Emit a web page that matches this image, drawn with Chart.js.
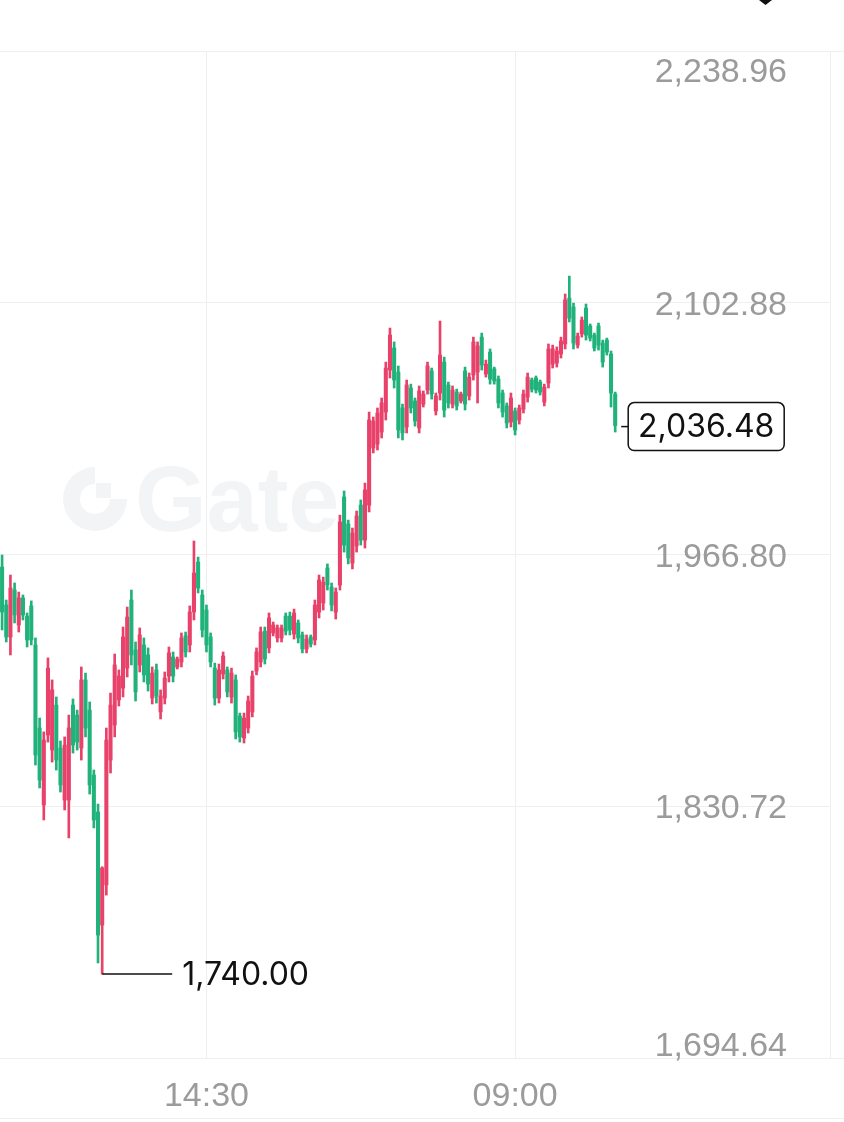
<!DOCTYPE html>
<html>
<head>
<meta charset="utf-8">
<script src="https://cdn.jsdelivr.net/npm/chart.js@4.4.1/dist/chart.umd.min.js"></script>
<style>
  html, body { margin: 0; padding: 0; background: #fff; }
  canvas { display: block; }
</style>
</head>
<body>
<canvas id="candles" width="844" height="1122"></canvas>
<script>
// 15 minute candles (red = up, green = down)
let opens = [
  1960.0, 1939.5, 1922.2, 1947.6, 1928.7, 1943.3, 1933.5, 1939.0, 1917.9, 1873.0,
  1831.4, 1869.2, 1861.1, 1885.4, 1862.2, 1834.1, 1834.1, 1885.4, 1880.0, 1862.2,
  1899.0, 1882.7, 1847.6, 1827.6, 1766.5, 1788.2, 1855.7, 1874.6, 1888.2, 1894.6,
  1905.4, 1942.2, 1915.2, 1907.1, 1917.9, 1912.5, 1889.2, 1904.4, 1881.7, 1889.2,
  1901.1, 1911.4, 1906.0, 1908.7, 1922.8, 1917.9, 1935.7, 1962.7, 1944.9, 1936.8,
  1922.2, 1905.4, 1889.2, 1902.2, 1904.4, 1889.8, 1899.0, 1879.5, 1867.6, 1873.0,
  1881.7, 1903.8, 1908.7, 1925.4, 1916.3, 1924.4, 1921.7, 1921.7, 1933.5, 1933.5,
  1923.8, 1929.8, 1923.3, 1915.7, 1922.2, 1920.6, 1935.7, 1940.6, 1959.5, 1949.2,
  1935.7, 1950.3, 1997.9, 1983.3, 1962.2, 1971.4, 1993.5, 1974.6, 1993.5, 2024.4,
  2026.5, 2033.0, 2043.8, 2066.5, 2078.4, 2065.4, 2046.0, 2035.7, 2056.8, 2049.8,
  2035.2, 2048.1, 2055.7, 2066.0, 2044.4, 2054.1, 2070.8, 2058.4, 2048.1, 2054.6,
  2049.8, 2066.0, 2052.5, 2063.8, 2065.4, 2084.3, 2064.4, 2076.2, 2067.1, 2061.6,
  2054.1, 2047.1, 2038.4, 2044.4, 2039.5, 2045.4, 2051.9, 2061.1, 2062.2, 2060.0,
  2049.2, 2059.5, 2069.7, 2070.3, 2075.2, 2080.6, 2105.4, 2100.6, 2080.0, 2086.0,
  2100.0, 2090.3, 2085.4, 2090.3, 2081.1, 2082.7, 2075.2, 2053.5
];
let highs = [
  1966.5, 1942.2, 1955.7, 1951.4, 1946.5, 1944.9, 1935.2, 1941.7, 1921.7, 1878.4,
  1870.9, 1910.9, 1899.0, 1889.8, 1866.0, 1868.2, 1880.0, 1888.7, 1882.7, 1906.0,
  1902.7, 1887.1, 1850.3, 1831.9, 1798.0, 1873.0, 1891.9, 1913.0, 1904.4, 1927.6,
  1938.4, 1947.6, 1919.5, 1927.1, 1921.7, 1916.3, 1906.0, 1907.6, 1893.6, 1903.3,
  1916.8, 1914.1, 1911.4, 1924.4, 1924.9, 1939.0, 1974.1, 1965.4, 1947.6, 1939.5,
  1924.4, 1908.1, 1907.6, 1914.1, 1906.0, 1905.4, 1901.7, 1881.1, 1881.1, 1890.3,
  1903.8, 1916.3, 1927.6, 1927.6, 1935.2, 1930.3, 1928.7, 1928.7, 1935.2, 1935.7,
  1937.3, 1931.4, 1924.9, 1923.3, 1923.3, 1942.2, 1955.7, 1954.6, 1961.7, 1951.4,
  1948.7, 1988.1, 2001.1, 1985.4, 1981.1, 1990.3, 1996.3, 2005.4, 2043.8, 2041.1,
  2046.0, 2051.4, 2070.8, 2089.2, 2081.7, 2068.7, 2048.1, 2061.1, 2058.9, 2051.4,
  2057.9, 2055.2, 2070.8, 2067.6, 2054.1, 2093.0, 2073.5, 2060.0, 2057.9, 2056.2,
  2054.6, 2068.1, 2064.9, 2084.3, 2081.7, 2086.5, 2071.9, 2077.9, 2068.1, 2063.3,
  2055.7, 2048.7, 2054.1, 2046.0, 2047.6, 2055.7, 2064.9, 2062.2, 2063.3, 2061.1,
  2058.9, 2080.6, 2080.0, 2079.0, 2084.3, 2107.6, 2117.3, 2102.7, 2086.5, 2095.2,
  2102.2, 2091.4, 2086.5, 2091.9, 2082.7, 2083.8, 2076.8, 2054.6
];
let lows = [
  1926.0, 1919.5, 1912.5, 1929.8, 1924.9, 1931.4, 1916.8, 1917.9, 1853.0, 1840.6,
  1823.3, 1865.4, 1854.6, 1850.3, 1838.4, 1828.7, 1813.6, 1859.5, 1861.1, 1855.7,
  1868.2, 1837.3, 1819.0, 1746.0, 1740.0, 1782.7, 1848.7, 1868.2, 1884.9, 1889.8,
  1900.6, 1907.1, 1887.6, 1903.3, 1897.9, 1893.0, 1886.0, 1886.5, 1877.9, 1886.0,
  1897.9, 1897.9, 1904.9, 1906.0, 1911.4, 1914.1, 1931.4, 1946.0, 1922.2, 1914.1,
  1906.0, 1885.4, 1886.5, 1899.5, 1889.8, 1886.5, 1867.1, 1865.4, 1864.9, 1870.3,
  1879.0, 1901.7, 1906.0, 1907.6, 1913.6, 1922.8, 1919.5, 1919.5, 1923.3, 1923.3,
  1921.1, 1919.0, 1913.6, 1913.6, 1916.8, 1917.9, 1932.5, 1936.8, 1947.6, 1936.3,
  1931.9, 1947.6, 1968.1, 1961.7, 1959.0, 1968.1, 1971.9, 1970.3, 1989.8, 2021.7,
  2023.3, 2029.8, 2039.5, 2062.2, 2056.8, 2029.8, 2028.7, 2032.5, 2043.3, 2036.2,
  2032.5, 2046.5, 2053.5, 2050.8, 2042.2, 2050.3, 2041.1, 2046.0, 2046.0, 2044.9,
  2048.7, 2044.9, 2050.3, 2061.1, 2048.7, 2066.5, 2062.7, 2058.9, 2058.9, 2046.0,
  2041.1, 2035.2, 2035.7, 2031.4, 2037.3, 2043.3, 2049.2, 2054.6, 2054.1, 2053.0,
  2047.1, 2056.8, 2067.6, 2068.1, 2073.0, 2077.9, 2092.5, 2077.9, 2078.4, 2084.3,
  2082.7, 2082.2, 2076.8, 2077.3, 2068.1, 2074.6, 2046.5, 2033.0
];
let closes = [
  1935.7, 1922.2, 1948.7, 1934.1, 1943.3, 1934.1, 1920.6, 1920.6, 1858.4, 1844.9,
  1866.5, 1905.4, 1893.6, 1855.7, 1842.2, 1863.8, 1873.0, 1863.8, 1865.4, 1899.0,
  1873.0, 1842.2, 1823.3, 1761.1, 1797.3, 1866.5, 1885.4, 1907.1, 1901.1, 1922.2,
  1933.0, 1912.5, 1892.5, 1923.3, 1901.7, 1896.8, 1902.7, 1890.3, 1890.3, 1900.0,
  1913.6, 1901.1, 1910.3, 1921.7, 1914.1, 1935.7, 1956.8, 1948.7, 1926.0, 1917.9,
  1908.7, 1889.2, 1904.4, 1911.9, 1892.5, 1902.7, 1870.9, 1868.2, 1878.4, 1887.6,
  1901.1, 1914.1, 1924.9, 1910.3, 1932.5, 1928.7, 1927.1, 1927.1, 1925.4, 1926.0,
  1935.2, 1921.7, 1915.7, 1921.1, 1918.4, 1939.5, 1953.0, 1951.9, 1950.3, 1939.5,
  1946.5, 1984.4, 1971.9, 1964.9, 1978.4, 1987.6, 1974.6, 2001.7, 2039.5, 2038.9,
  2043.3, 2048.7, 2067.6, 2085.4, 2061.1, 2034.1, 2032.5, 2058.4, 2046.0, 2038.9,
  2055.2, 2053.5, 2068.7, 2053.5, 2052.5, 2074.6, 2044.9, 2048.7, 2055.7, 2047.1,
  2053.5, 2048.1, 2062.7, 2081.7, 2079.5, 2069.2, 2069.7, 2061.6, 2060.6, 2048.7,
  2043.8, 2037.9, 2051.4, 2034.1, 2046.0, 2053.5, 2062.7, 2056.2, 2055.7, 2054.6,
  2057.3, 2077.9, 2077.9, 2076.8, 2082.2, 2104.4, 2094.6, 2081.1, 2084.9, 2093.5,
  2085.4, 2083.8, 2078.4, 2080.0, 2070.8, 2076.2, 2054.1, 2036.48
];

let yTicks = [1694.64, 1830.72, 1966.80, 2102.88, 2238.96];
let xTickIdx = [49, 123];     // 14:30 and 09:00
let slotCount = 199;          // empty slots keep room on the right
let startMinutes = 2 * 60 + 15;

let upColor = '#e8416a';
let downColor = '#20b27a';
let gridColor = '#efefef';
let labelColor = '#9b9b9b';

let timeLabels = [];
for (let i = 0; i < slotCount; i++) {
  let m = (startMinutes + i * 15) % (24 * 60);
  timeLabels.push(String(Math.floor(m / 60)).padStart(2, '0') + ':' + String(m % 60).padStart(2, '0'));
}

let candleColors = opens.map((o, i) => closes[i] >= o ? upColor : downColor);

function fmt(v) {
  return v.toLocaleString('en-US', { minimumFractionDigits: 2, maximumFractionDigits: 2 });
}

let decor = {
  id: 'decor',
  beforeDraw(chart) {
    let ctx = chart.ctx;
    let area = chart.chartArea;
    ctx.save();
    // watermark
    ctx.fillStyle = '#f3f4f5';
    let cx = 95, cy = 499;
    ctx.beginPath();
    ctx.arc(cx, cy, 32, 0, Math.PI * 1.5);
    ctx.arc(cx, cy, 15, Math.PI * 1.5, 0, true);
    ctx.closePath();
    ctx.fill();
    ctx.fillRect(cx + 1, cy - 16, 15, 15);
    ctx.font = 'bold 92px "Liberation Sans"';
    ctx.textBaseline = 'alphabetic';
    ctx.fillText('Gate', 135, 531);

    // full width rules
    ctx.strokeStyle = gridColor;
    ctx.lineWidth = 1;
    [area.top, area.bottom, 1118].forEach(y => {
      ctx.beginPath();
      ctx.moveTo(0, Math.round(y) + 0.5);
      ctx.lineTo(chart.width, Math.round(y) + 0.5);
      ctx.stroke();
    });
    ctx.restore();
  },
  afterDraw(chart) {
    let ctx = chart.ctx;
    let xs = chart.scales.x, ys = chart.scales.y;
    ctx.save();

    // price labels inside the plot
    ctx.font = '34px "Liberation Sans"';
    ctx.fillStyle = labelColor;
    ctx.textAlign = 'right';
    ctx.textBaseline = 'alphabetic';
    yTicks.forEach(v => {
      let base = ys.getPixelForValue(v) + 12;
      base = Math.max(base, ys.top + 31);
      base = Math.min(base, ys.bottom - 2);
      ctx.fillText(fmt(v), 787, base);
    });

    // time labels under the plot
    ctx.textAlign = 'center';
    xTickIdx.forEach(i => {
      ctx.fillText(timeLabels[i], xs.getPixelForValue(i), ys.bottom + 48);
    });

    // lowest low marker
    let lowVal = Math.min(...lows);
    let lowIdx = lows.indexOf(lowVal);
    let lx = xs.getPixelForValue(lowIdx);
    let ly = ys.getPixelForValue(lowVal);
    ctx.strokeStyle = '#111';
    ctx.lineWidth = 1.5;
    ctx.beginPath();
    ctx.moveTo(lx, ly);
    ctx.lineTo(lx + 70, ly);
    ctx.stroke();
    ctx.font = '32px Inter';
    ctx.fillStyle = '#111';
    ctx.textAlign = 'left';
    ctx.textBaseline = 'middle';
    ctx.fillText(fmt(lowVal), lx + 80, ly + 1);

    // last price tag
    let last = closes.length - 1;
    let px = xs.getPixelForValue(last);
    let py = ys.getPixelForValue(closes[last]) + 1;
    ctx.beginPath();
    ctx.moveTo(px + 6, py);
    ctx.lineTo(px + 13, py);
    ctx.stroke();
    ctx.beginPath();
    ctx.roundRect(px + 13, py - 24, 156, 48, 6);
    ctx.fillStyle = '#fff';
    ctx.fill();
    ctx.stroke();
    ctx.fillStyle = '#111';
    ctx.textAlign = 'center';
    ctx.fillText(fmt(closes[last]), px + 91, py + 1);

    // clipped icon at the top edge
    ctx.beginPath();
    ctx.moveTo(759, 0);
    ctx.lineTo(772, 0);
    ctx.lineTo(765.5, 5);
    ctx.closePath();
    ctx.fill();
    ctx.restore();
  }
};

let myChart = document.getElementById('candles').getContext('2d');
let chart = new Chart(myChart, {
  type: 'bar',
  data: {
    labels: timeLabels,
    datasets: [
      {
        label: 'wick',
        data: lows.map((l, i) => [l, highs[i]]),
        backgroundColor: candleColors,
        barThickness: 2,
        grouped: false,
        order: 2
      },
      {
        label: 'body',
        data: opens.map((o, i) => [o, closes[i]]),
        backgroundColor: candleColors,
        barThickness: 3.4,
        minBarLength: 1,
        grouped: false,
        order: 1
      }
    ]
  },
  options: {
    responsive: false,
    animation: false,
    devicePixelRatio: 1,
    layout: { padding: { top: 51, right: 14, bottom: 64, left: 0 } },
    plugins: {
      legend: { display: false },
      tooltip: { enabled: false }
    },
    scales: {
      x: {
        grid: { offset: false, color: gridColor, drawTicks: false },
        border: { display: false },
        ticks: { display: false },
        afterBuildTicks: s => { s.ticks = xTickIdx.map(v => ({ value: v })); }
      },
      y: {
        position: 'right',
        min: yTicks[0],
        max: yTicks[yTicks.length - 1],
        grid: { color: gridColor, drawTicks: false },
        border: { display: true, color: gridColor },
        ticks: { display: false },
        afterBuildTicks: s => { s.ticks = yTicks.map(v => ({ value: v })); }
      }
    }
  },
  plugins: [decor]
});
</script>
</body>
</html>
